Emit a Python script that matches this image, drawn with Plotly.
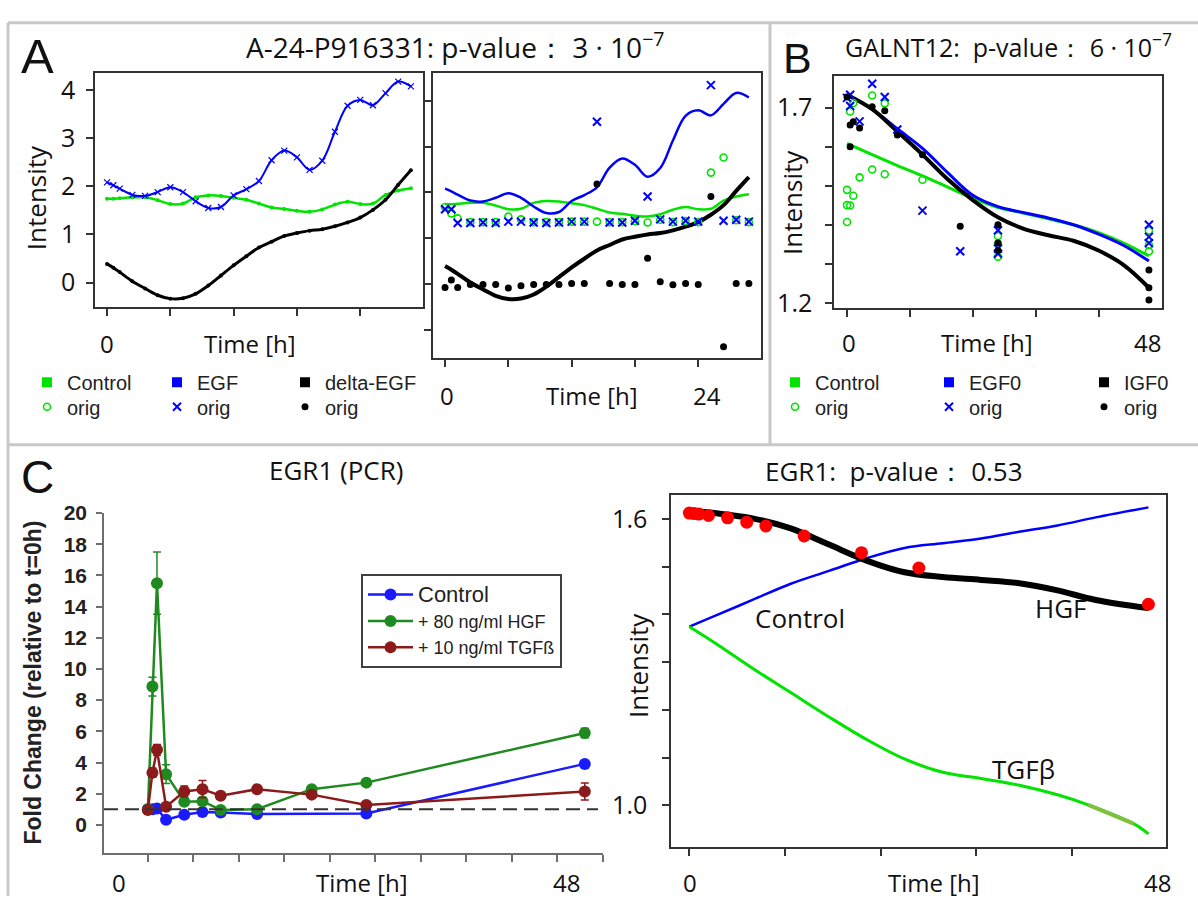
import plotly.graph_objects as go

W, H = 1198, 907
def px(x): return x / W
def py(y): return 1 - y / H

# ---------------- Panel A data (A-24-P916331) ----------------
a_t = [0, 0.6, 1.2, 2.4, 3.6, 4.8, 6.0, 7.2, 8.4, 9.6, 10.8, 12.0, 13.2, 14.4, 15.6,
       16.8, 18.0, 19.2, 20.4, 21.6, 22.8, 24.0, 25.2, 26.4, 27.6, 28.8]
a_ctrl_fit = [1.74, 1.74, 1.75, 1.77, 1.77, 1.71, 1.63, 1.64, 1.77, 1.81, 1.80, 1.76, 1.72,
              1.64, 1.56, 1.53, 1.49, 1.47, 1.52, 1.62, 1.68, 1.63, 1.64, 1.82, 1.91, 1.96]
a_egf_fit = [2.08, 2.02, 1.95, 1.82, 1.80, 1.88, 1.98, 1.88, 1.69, 1.55, 1.57, 1.81, 1.94,
             2.11, 2.54, 2.74, 2.60, 2.34, 2.53, 3.13, 3.67, 3.79, 3.68, 3.93, 4.17, 4.07]
a_delta_fit = [0.39, 0.31, 0.22, 0.03, -0.12, -0.26, -0.33, -0.32, -0.23, -0.06, 0.15, 0.36, 0.55,
               0.73, 0.85, 0.97, 1.03, 1.08, 1.11, 1.17, 1.25, 1.35, 1.51, 1.72, 2.03, 2.33]
a_ctrl_orig = [1.68, 1.54, 1.43, 1.35, 1.35, 1.35, 1.47, 1.41, 1.35, 1.35, 1.35, 1.36, 1.36,
               1.36, 1.35, 1.35, 1.37, 1.34, 1.40, 1.35, 1.37, 1.35, 2.43, 2.76, 1.39, 1.35]
a_egf_orig = [1.63, 1.63, 1.33, 1.33, 1.34, 1.33, 1.36, 1.36, 1.34, 1.33, 1.34, 1.36, 1.36,
              3.54, 1.34, 1.34, 1.38, 1.91, 1.41, 1.36, 1.38, 1.36, 4.34, 1.38, 1.40, 1.36]
a_delta_orig = [-0.08, 0.085, -0.08, -0.01, -0.01, -0.01, -0.09, -0.04, -0.01, -0.01, -0.01, 0.01, 0.01,
                2.18, 0.01, -0.01, -0.01, 0.56, 0.05, -0.02, 0.01, -0.01, 1.91, -1.37, 0.01, 0.01]
a_left_yticks = [0, 1, 2, 3, 4]
a_right_yticks = [-1, 0, 1, 2, 3, 4]
a_xticks = [0, 6, 12, 18, 24]

# ---------------- Panel B data (GALNT12) ----------------
b_fit_t = [0, 4, 8, 12, 16, 20, 24, 28, 32, 36, 40, 44, 48]
b_ctrl_fit = [1.609, 1.580, 1.552, 1.526, 1.497, 1.468, 1.445, 1.431, 1.416, 1.401, 1.381, 1.354, 1.321]
b_egf_fit = [1.733, 1.696, 1.646, 1.596, 1.534, 1.476, 1.447, 1.432, 1.418, 1.401, 1.377, 1.348, 1.308]
b_igf_fit = [1.733, 1.696, 1.639, 1.580, 1.517, 1.464, 1.420, 1.391, 1.374, 1.360, 1.335, 1.298, 1.240]
b_ctrl_orig_t = [0, 0, 0, 0.5, 0.5, 1, 1, 2, 4, 4, 6, 6, 12, 24, 24, 24, 48, 48, 48]
b_ctrl_orig_v = [1.490, 1.451, 1.408, 1.450, 1.690, 1.475, 1.712, 1.522, 1.542, 1.731, 1.530, 1.711,
                 1.516, 1.372, 1.352, 1.319, 1.386, 1.349, 1.333]
b_egf_orig_t = [0, 0.5, 0.5, 2, 4, 6, 8, 12, 18, 24, 24, 24, 48, 48, 48]
b_egf_orig_v = [1.725, 1.733, 1.704, 1.665, 1.761, 1.727, 1.644, 1.437, 1.333, 1.387, 1.340, 1.327,
                1.401, 1.370, 1.354]
b_igf_orig_t = [0, 0.5, 0.5, 1, 2, 4, 6, 8, 12, 18, 24, 24, 24, 48, 48, 48]
b_igf_orig_v = [1.727, 1.656, 1.600, 1.664, 1.648, 1.702, 1.692, 1.630, 1.580, 1.397, 1.401, 1.354,
                1.335, 1.285, 1.240, 1.209]
b_yticks_major = [1.2, 1.7]
b_yticks_minor = [1.3, 1.4, 1.5, 1.6]
b_xticks = [0, 10, 20, 30, 40]

# ---------------- Panel C left data (EGR1 PCR) ----------------
pcr_t = [0, 0.5, 1, 2, 4, 6, 8, 12, 18, 24, 48]
pcr_ctrl_t = [0, 0.5, 1, 2, 4, 6, 8, 12, 24, 48]
pcr_ctrl = [1.0, 1.0, 1.05, 0.33, 0.65, 0.83, 0.80, 0.70, 0.73, 3.91]
pcr_ctrl_err = [0.05, 0.05, 0.1, 0.1, 0.1, 0.1, 0.1, 0.1, 0.1, 0.2]
pcr_hgf = [1.0, 8.87, 15.5, 3.25, 1.48, 1.52, 0.96, 1.0, 2.29, 2.71, 5.89]
pcr_hgf_err = [0.05, 0.6, 2.0, 0.6, 0.2, 0.2, 0.1, 0.1, 0.15, 0.15, 0.3]
pcr_tgf = [0.96, 3.35, 4.81, 1.17, 2.14, 2.29, 1.87, 2.29, 1.94, 1.27, 2.14]
pcr_tgf_err = [0.05, 0.3, 0.35, 0.2, 0.35, 0.55, 0.2, 0.15, 0.15, 0.15, 0.55]
pcr_baseline = 1.0
pcr_yticks = [0, 2, 4, 6, 8, 10, 12, 14, 16, 18, 20]
pcr_xticks = [0, 5, 10, 15, 20, 25, 30, 35, 40, 45, 50]

# ---------------- Panel C right data (EGR1 model) ----------------
c_ctrl_t = [0, 2.6, 6.6, 10.6, 14.6, 18.6, 22.5, 26.5, 30.5, 34.5, 38.5, 42.5, 48]
c_ctrl_v = [1.374, 1.396, 1.430, 1.464, 1.491, 1.518, 1.539, 1.549, 1.559, 1.573, 1.586, 1.603, 1.624]
c_tgf_t = [0, 2.6, 6.6, 10.6, 14.6, 18.6, 22.5, 26.5, 30.5, 34.5, 38.5, 41.7, 46.5, 48]
c_tgf_v = [1.374, 1.341, 1.287, 1.236, 1.185, 1.137, 1.097, 1.069, 1.056, 1.042, 1.022, 1.001, 0.961, 0.940]
c_tgf_hl_t = [41.7, 44.0, 46.5]
c_tgf_hl_v = [1.001, 0.982, 0.961]
c_hgf_t = [0, 2.6, 6.6, 10.6, 14.6, 18.6, 22.5, 26.5, 30.5, 34.5, 38.5, 42.5, 48]
c_hgf_v = [1.617, 1.612, 1.601, 1.580, 1.546, 1.512, 1.488, 1.478, 1.472, 1.465, 1.450, 1.430, 1.413]
c_obs_t = [0, 0.5, 1, 2, 4, 6, 8, 12, 18, 24, 48]
c_obs_v = [1.612, 1.611, 1.610, 1.607, 1.602, 1.593, 1.585, 1.564, 1.529, 1.497, 1.421]
c_yticks_major = [1.0, 1.6]
c_yticks_minor = [1.1, 1.2, 1.3, 1.4, 1.5]
c_xticks = [0, 10, 20, 30, 40]

GREEN = "#00e400"
BLUE = "#0000ff"
BLACK = "#000000"
SANS = "Open Sans"
ARIAL = "Liberation Sans"

fig = go.Figure()

def legend_square(name, color, legend):
    fig.add_trace(go.Scatter(x=[None], y=[None], mode="markers", name=name,
                             marker=dict(symbol="square", size=10, color=color),
                             legend=legend, xaxis="x", yaxis="y", showlegend=True))

# ================= Panel A left =================
legend_square("Control", GREEN, "legend")
legend_square("EGF", BLUE, "legend2")
legend_square("delta-EGF", BLACK, "legend3")

fig.add_trace(go.Scatter(x=a_t, y=a_ctrl_fit, mode="lines+markers", line=dict(color=GREEN, width=2.5, shape="spline"),
                         marker=dict(size=4, color=GREEN), showlegend=False, xaxis="x", yaxis="y"))
fig.add_trace(go.Scatter(x=a_t, y=a_egf_fit, mode="lines+markers", line=dict(color=BLUE, width=2, shape="spline"),
                         marker=dict(symbol="x-thin", size=6, color=BLUE, line=dict(color=BLUE, width=1.2)),
                         showlegend=False, xaxis="x", yaxis="y"))
fig.add_trace(go.Scatter(x=a_t, y=a_delta_fit, mode="lines+markers", line=dict(color=BLACK, width=3, shape="spline"),
                         marker=dict(size=4, color=BLACK), showlegend=False, xaxis="x", yaxis="y"))

# ================= Panel A right =================
fig.add_trace(go.Scatter(x=a_t, y=a_ctrl_fit, mode="lines", line=dict(color=GREEN, width=2.5, shape="spline"),
                         showlegend=False, xaxis="x2", yaxis="y2"))
fig.add_trace(go.Scatter(x=a_t, y=a_egf_fit, mode="lines", line=dict(color=BLUE, width=2.5, shape="spline"),
                         showlegend=False, xaxis="x2", yaxis="y2"))
fig.add_trace(go.Scatter(x=a_t, y=a_delta_fit, mode="lines", line=dict(color=BLACK, width=4, shape="spline"),
                         showlegend=False, xaxis="x2", yaxis="y2"))
fig.add_trace(go.Scatter(x=a_t, y=a_ctrl_orig, mode="markers", name="orig", legend="legend4",
                         marker=dict(symbol="circle-open", size=7, color=GREEN, line=dict(color=GREEN, width=1.6)),
                         xaxis="x2", yaxis="y2"))
fig.add_trace(go.Scatter(x=a_t, y=a_egf_orig, mode="markers", name="orig", legend="legend5",
                         marker=dict(symbol="x-thin", size=8, color=BLUE, line=dict(color=BLUE, width=2)),
                         xaxis="x2", yaxis="y2"))
fig.add_trace(go.Scatter(x=a_t, y=a_delta_orig, mode="markers", name="orig", legend="legend6",
                         marker=dict(symbol="circle", size=7, color=BLACK),
                         xaxis="x2", yaxis="y2"))

# ================= Panel B =================
legend_square("Control", GREEN, "legend7")
legend_square("EGF0", BLUE, "legend8")
legend_square("IGF0", BLACK, "legend9")
fig.add_trace(go.Scatter(x=b_fit_t, y=b_ctrl_fit, mode="lines", line=dict(color=GREEN, width=3, shape="spline"),
                         showlegend=False, xaxis="x3", yaxis="y3"))
fig.add_trace(go.Scatter(x=b_fit_t, y=b_egf_fit, mode="lines", line=dict(color=BLUE, width=3, shape="spline"),
                         showlegend=False, xaxis="x3", yaxis="y3"))
fig.add_trace(go.Scatter(x=b_fit_t, y=b_igf_fit, mode="lines", line=dict(color=BLACK, width=4, shape="spline"),
                         showlegend=False, xaxis="x3", yaxis="y3"))
fig.add_trace(go.Scatter(x=b_ctrl_orig_t, y=b_ctrl_orig_v, mode="markers", name="orig", legend="legend10",
                         marker=dict(symbol="circle-open", size=7, color=GREEN, line=dict(color=GREEN, width=1.6)),
                         xaxis="x3", yaxis="y3"))
fig.add_trace(go.Scatter(x=b_egf_orig_t, y=b_egf_orig_v, mode="markers", name="orig", legend="legend11",
                         marker=dict(symbol="x-thin", size=8, color=BLUE, line=dict(color=BLUE, width=2)),
                         xaxis="x3", yaxis="y3"))
fig.add_trace(go.Scatter(x=b_igf_orig_t, y=b_igf_orig_v, mode="markers", name="orig", legend="legend12",
                         marker=dict(symbol="circle", size=7, color=BLACK),
                         xaxis="x3", yaxis="y3"))

# ================= Panel C left =================
for name, tt, vals, err, col in [("<span style='font-size:22px'>Control</span>", pcr_ctrl_t, pcr_ctrl, pcr_ctrl_err, "#1a1aff"),
                                 ("+ 80 ng/ml HGF", pcr_t, pcr_hgf, pcr_hgf_err, "#1f8a1f"),
                                 ("+ 10 ng/ml TGFß", pcr_t, pcr_tgf, pcr_tgf_err, "#8c1a1a")]:
    fig.add_trace(go.Scatter(x=tt, y=vals, mode="lines+markers", name=name, legend="legend13",
                             line=dict(color=col, width=2.5), marker=dict(size=12, color=col),
                             error_y=dict(type="data", array=err, color=col, thickness=1.5, width=4),
                             xaxis="x4", yaxis="y4"))

# ================= Panel C right =================
fig.add_trace(go.Scatter(x=c_ctrl_t, y=c_ctrl_v, mode="lines", line=dict(color=BLUE, width=2.5, shape="spline"),
                         showlegend=False, xaxis="x5", yaxis="y5"))
fig.add_trace(go.Scatter(x=c_tgf_t, y=c_tgf_v, mode="lines", line=dict(color=GREEN, width=3, shape="spline"),
                         showlegend=False, xaxis="x5", yaxis="y5"))
fig.add_trace(go.Scatter(x=c_tgf_hl_t, y=c_tgf_hl_v, mode="lines", line=dict(color="#80c040", width=4, shape="spline"),
                         showlegend=False, xaxis="x5", yaxis="y5"))
fig.add_trace(go.Scatter(x=c_hgf_t, y=c_hgf_v, mode="lines", line=dict(color=BLACK, width=6, shape="spline"),
                         showlegend=False, xaxis="x5", yaxis="y5"))
fig.add_trace(go.Scatter(x=c_obs_t, y=c_obs_v, mode="markers", marker=dict(size=13, color="#ff0000"),
                         showlegend=False, xaxis="x5", yaxis="y5"))

# ---------------- axes ----------------
box = dict(showline=True, mirror=True, linecolor="#333333", linewidth=1.5, ticks="outside", ticklen=7,
           tickwidth=1.5, tickcolor="#333333", showgrid=False, zeroline=False)
minor_box = dict(ticks="outside", ticklen=7, tickwidth=1.5, tickcolor="#333333", showgrid=False)
tickf = dict(family=SANS, size=25, color="#111111")

fig.update_layout(
    xaxis=dict(domain=[px(95), px(423)], range=[-1.14, 29.95], anchor="y", tickvals=a_xticks,
               showticklabels=False, **box),
    yaxis=dict(domain=[py(303), py(63)], range=[-0.51, 4.34], anchor="x", tickvals=a_left_yticks,
               tickfont=tickf, ticklabelstandoff=6, **box),
    xaxis2=dict(domain=[px(433), px(761)], range=[-1.14, 29.95], anchor="y2", tickvals=a_xticks,
                showticklabels=False, **box),
    yaxis2=dict(domain=[py(355), py(63)], range=[-1.617, 4.596], anchor="x2", tickvals=a_right_yticks,
                showticklabels=False, **box),
    xaxis3=dict(domain=[px(834), px(1162)], range=[-2.07, 50.08], anchor="y3", tickvals=b_xticks,
                showticklabels=False, **box),
    yaxis3=dict(domain=[py(304), py(66)], range=[1.1875, 1.78], anchor="x3", tickvals=b_yticks_major,
                minor=dict(tickvals=b_yticks_minor, **minor_box),
                tickfont=tickf, ticklabelstandoff=8, **box),
    xaxis4=dict(domain=[px(104), px(603)], range=[-4.82, 50.0], anchor="y4", tickvals=pcr_xticks,
                showticklabels=False, showline=True, linecolor="#6e6e6e", linewidth=1.5, ticks="outside",
                ticklen=7, tickwidth=1.5, tickcolor="#6e6e6e", showgrid=False, zeroline=False),
    yaxis4=dict(domain=[py(863), py(514)], range=[-1.81, 20], anchor="x4", tickvals=pcr_yticks,
                tickfont=dict(family=ARIAL, size=21, color="#222222", weight="bold"), ticklabelstandoff=5,
                showline=True, linecolor="#6e6e6e", linewidth=1.5, ticks="outside", ticklen=6,
                tickwidth=1.5, tickcolor="#6e6e6e", showgrid=False, zeroline=False),
    xaxis5=dict(domain=[px(671), px(1166)], range=[-1.92, 49.84], anchor="y5", tickvals=c_xticks,
                showticklabels=False, **box),
    yaxis5=dict(domain=[py(857), py(496)], range=[0.912, 1.649], anchor="x5", tickvals=c_yticks_major,
                minor=dict(tickvals=c_yticks_minor, **minor_box),
                tickfont=tickf, ticklabelstandoff=10, tickformat=".1f", **box),
)

# ---------------- legends (one legend per entry so rows sit exactly) ----------------
leg_font = dict(family=ARIAL, size=20, color="#222222")
def leg(xm, yc):
    return dict(x=px(xm - 20), y=py(yc), xanchor="left", yanchor="middle", bgcolor="rgba(0,0,0,0)",
                borderwidth=0, font=leg_font, tracegroupgap=0, orientation="v")
row1, row2 = 380, 405
fig.update_layout(
    legend=leg(47, row1), legend2=leg(177, row1), legend3=leg(305, row1),
    legend4=leg(47, row2), legend5=leg(177, row2), legend6=leg(305, row2),
    legend7=leg(795, row1), legend8=leg(949, row1), legend9=leg(1104, row1),
    legend10=leg(795, row2), legend11=leg(949, row2), legend12=leg(1104, row2),
    legend13=dict(x=px(361), y=py(577), xanchor="left", yanchor="top", bgcolor="white",
                  bordercolor="#404040", borderwidth=2, font=dict(family=ARIAL, size=18, color="#222222"),
                  tracegroupgap=0, itemwidth=45),
)

# ---------------- shapes ----------------
frame = dict(color="#c8c8c8", width=3)
shapes = [
    dict(type="line", xref="paper", yref="paper", x0=px(8), x1=px(1198), y0=py(11), y1=py(11), line=frame),
    dict(type="line", xref="paper", yref="paper", x0=px(8), x1=px(8), y0=py(11), y1=py(907), line=frame),
    dict(type="line", xref="paper", yref="paper", x0=px(770), x1=px(770), y0=py(11), y1=py(444), line=frame),
    dict(type="line", xref="paper", yref="paper", x0=px(8), x1=px(1198), y0=py(444), y1=py(444), line=frame),
    dict(type="line", xref="x4 domain", yref="y4", x0=0, x1=0.99, y0=pcr_baseline, y1=pcr_baseline,
         line=dict(color="#333333", width=2, dash="14px,7px")),
]
fig.update_layout(shapes=shapes)

# ---------------- annotations ----------------
def ann(text, x, y, size, family=SANS, angle=0, weight="normal", xanchor="center", color="#111111"):
    fig.add_annotation(text=text, x=px(x), y=py(y), xref="paper", yref="paper", showarrow=False,
                       font=dict(family=family, size=size, color=color, weight=weight), textangle=angle,
                       xanchor=xanchor, yanchor="middle")

NB = "\u00a0"
ann("A", 37, 45, 49, family=ARIAL)
ann("B", 797, 47, 43, family=ARIAL)
ann("C", 37, 477, 46, family=ARIAL)

ann("A-24-P916331: p-value：" + NB + "3 · 10<sup>−7</sup>", 455, 34, 28)
ann("GALNT12:" + NB + " p-value：" + NB + "6 · 10<sup>−7</sup>", 1008, 34, 25)
ann("EGR1 (PCR)", 336, 470, 26)
ann("EGR1:" + NB + " p-value：" + NB + "0.53", 894, 471, 26)

ann("Intensity", 36, 191, 26, angle=-90)
ann("Intensity", 792, 196, 26, angle=-90)
ann("Intensity", 638, 671, 26, angle=-90)
ann("Fold Change (relative to t=0h)", 33, 688, 23, family=ARIAL, angle=-90, weight="bold", color="#222222")

for text, x, y in [("0", 107, 340), ("Time [h]", 250, 340),
                   ("0", 447, 393), ("Time [h]", 592, 393), ("24", 707, 393),
                   ("0", 849, 339), ("Time [h]", 987, 339), ("48", 1147, 339),
                   ("0", 119, 893), ("Time [h]", 362, 893), ("48", 566, 893),
                   ("0", 690, 893), ("Time [h]", 934, 893), ("48", 1157, 893)]:
    ann(text, x, y, 24)

ann("Control", 800, 622, 26)
ann("HGF", 1061, 612, 26)
ann("TGFβ", 1023, 777, 26)

fig.update_layout(width=W, height=H, margin=dict(l=0, r=0, t=0, b=0), paper_bgcolor="white",
                  plot_bgcolor="white", showlegend=True)

fig.write_html("out.html", config={"displayModeBar": False},
               post_script="document.body.style.margin='0px';document.body.style.overflow='hidden';")
